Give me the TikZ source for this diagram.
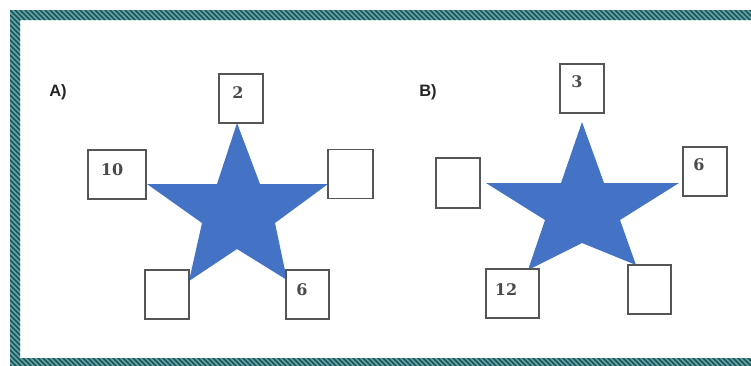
\documentclass[tikz,border=0pt]{standalone}
\usepackage{fontspec}
\setmainfont{DejaVu Serif}
\newfontfamily\labfont{Liberation Sans}
\definecolor{starblue}{HTML}{4472C4}
\definecolor{boxgray}{HTML}{555555}
\definecolor{tealband}{HTML}{5AA8A5}
\definecolor{tealdark}{HTML}{24505A}
\definecolor{numgray}{HTML}{4A4A4A}
\begin{document}
\begin{tikzpicture}[x=1pt,y=-1pt,
  numbox/.style={draw=boxgray, line width=1.4pt, fill=white, inner sep=0pt, minimum height=49pt},
  numtxt/.style={font=\bfseries\fontsize{16}{16}\selectfont, text=numgray, inner sep=0pt},
  parttxt/.style={font=\labfont\bfseries\fontsize{16.5}{16.5}\selectfont, text=black!85, inner sep=0pt},
  starfill/.style={fill=starblue, draw=none}]
\useasboundingbox (0,0) rectangle (751,365);
\fill[white] (0,0) rectangle (751,365);
% hatched frame
\begin{scope}
  \clip (0,0) rectangle (751,365);
  \begin{scope}[even odd rule]
    \clip (10,10) rectangle (761,368) (20,20) rectangle (751,358);
    \fill[tealband] (10,10) rectangle (761,368);
    \foreach \i in {-400,-395,...,800} {
      \draw[tealdark, line width=1.5pt] (\i,0) -- ++(380,380);
    }
  \end{scope}
\end{scope}
% star A
\fill[starfill] (237,123) -- (260,184) -- (328,184) -- (275,223) -- (287,280) -- (237,249) -- (189,281) -- (202,223) -- (147,184) -- (217,184) -- cycle;
% star B
\fill[starfill] (582,122) -- (604,183) -- (679,183) -- (620,220) -- (636,265) -- (582,243) -- (528,270) -- (545,220) -- (486,183) -- (561,183) -- cycle;
% boxes A
\node[numbox, minimum width=44pt] (at) at (241,98.5) {};
\node[numbox, minimum width=58pt] (al) at (117,174.5) {};
\node[numbox, minimum width=45pt] (ar) at (350.5,174) {};
\node[numbox, minimum width=44pt] (abl) at (167,294.5) {};
\node[numbox, minimum width=43pt] (abr) at (307.5,294.5) {};
% boxes B
\node[numbox, minimum width=44pt] (bt) at (582,88.5) {};
\node[numbox, minimum width=44pt, minimum height=50pt] (bl) at (458,183) {};
\node[numbox, minimum width=44pt] (br) at (705,171.5) {};
\node[numbox, minimum width=53pt] (bbl) at (512.5,293.5) {};
\node[numbox, minimum width=43pt] (bbr) at (649.5,289.5) {};
% numbers
\node[numtxt] (n2) at (238,93) {2};
\node[numtxt] (n10) at (112,170) {10};
\node[numtxt] (n6a) at (302,290) {6};
\node[numtxt] (n3) at (577,82) {3};
\node[numtxt] (n6b) at (699,165) {6};
\node[numtxt] (n12) at (506,290) {12};
% part labels
\node[parttxt] (la) at (58,92) {A)};
\node[parttxt] (lb) at (428,92) {B)};
\end{tikzpicture}
\end{document}
